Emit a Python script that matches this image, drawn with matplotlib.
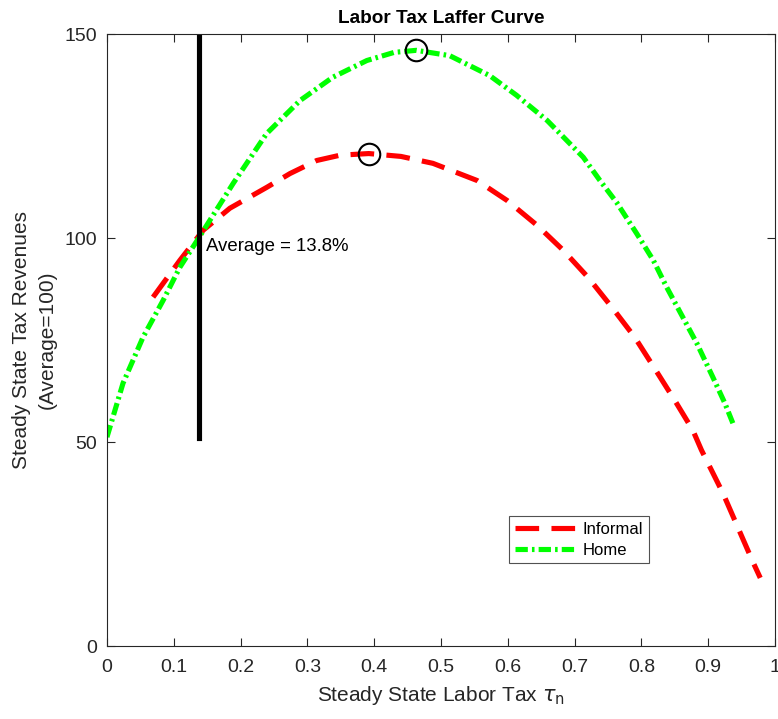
import numpy as np
import matplotlib.pyplot as plt

plt.rcParams['font.family'] = ['Liberation Sans', 'DejaVu Sans']

# Steady state labor tax grid and revenues (average = 100)
tau_informal = [0.069, 0.109, 0.144, 0.184, 0.239, 0.274, 0.314, 0.349, 0.392,
                0.44, 0.488, 0.554, 0.599, 0.644, 0.683, 0.72, 0.756, 0.79,
                0.82, 0.85, 0.877, 0.89, 0.922, 0.967, 0.978]
rev_informal = [85.5, 94.5, 101.9, 107.3, 112.4, 115.8, 119.0, 120.3, 120.7,
                120.0, 118.3, 114.1, 109.2, 103.1, 97.0, 90.4, 83.0, 75.7,
                68.0, 60.2, 52.9, 48.0, 37.5, 20.6, 16.7]

tau_home = [0.0, 0.024, 0.054, 0.084, 0.109, 0.135, 0.189, 0.239, 0.289, 0.338,
            0.389, 0.43, 0.463, 0.513, 0.573, 0.613, 0.659, 0.713, 0.738, 0.763,
            0.793, 0.818, 0.838, 0.862, 0.883, 0.907, 0.925, 0.937]
rev_home = [51.2, 64.4, 75.7, 84.7, 92.8, 99.4, 113.4, 125.6, 133.7, 139.4,
            143.5, 145.5, 146.0, 144.7, 139.8, 135.0, 128.8, 119.8, 114.1, 108.7,
            101.1, 94.5, 87.9, 80.6, 74.2, 65.9, 59.5, 54.6]

peak_tau = [0.392, 0.463]
peak_rev = [120.7, 146.0]

avg_tau = 0.138
avg_span = [51, 150]

fig = plt.figure(figsize=(7.78, 7.19), dpi=100)
ax = fig.add_axes([0.1375, 0.1015, 0.8586, 0.8512])

ax.plot(tau_informal, rev_informal, color='#ff0000', lw=3.7,
        dashes=(4.6, 2.4), label='Informal')
ax.plot(tau_home, rev_home, color='#00ff00', lw=3.7,
        dashes=(2.4, 0.8, 0.5, 0.8), label='Home')
ax.plot([avg_tau, avg_tau], avg_span, color='black', lw=3.7)
ax.plot(peak_tau, peak_rev, 'o', mfc='none', mec='black', ms=15.5, mew=1.5)
ax.text(avg_tau + 0.01, 98, 'Average = 13.8%', fontsize=13.4, va='center')

ax.set_xlim(0, 1)
ax.set_ylim(0, 150)
ax.set_xticks(np.arange(0, 1.01, 0.1))
ax.set_xticklabels(['0', '0.1', '0.2', '0.3', '0.4', '0.5', '0.6', '0.7', '0.8', '0.9', '1'])
ax.set_yticks([0, 50, 100, 150])
ax.tick_params(direction='in', top=True, right=True, labelsize=14,
               colors='#262626', length=5.5, width=0.8)
ax.tick_params(axis='x', pad=9)
ax.tick_params(axis='y', pad=7)
for s in ax.spines.values():
    s.set_color('#262626')
    s.set_linewidth(0.8)

ax.set_title('Labor Tax Laffer Curve', fontsize=13.7, fontweight='bold', pad=8)
ax.set_xlabel(r'Steady State Labor Tax $\tau_{\rm n}$', fontsize=15,
              color='#262626', labelpad=6)
ax.set_ylabel('Steady State Tax Revenues\n(Average=100)', fontsize=15,
              color='#262626', labelpad=6, linespacing=1.4)

leg = ax.legend(loc='lower left', bbox_to_anchor=(0.6025, 0.135), fontsize=12,
                frameon=True, fancybox=False, edgecolor='#262626',
                handlelength=3.7, borderpad=0.35, labelspacing=0.35,
                handletextpad=0.35, borderaxespad=0)
leg.get_frame().set_linewidth(0.8)

fig.savefig('out.png', dpi=100)
